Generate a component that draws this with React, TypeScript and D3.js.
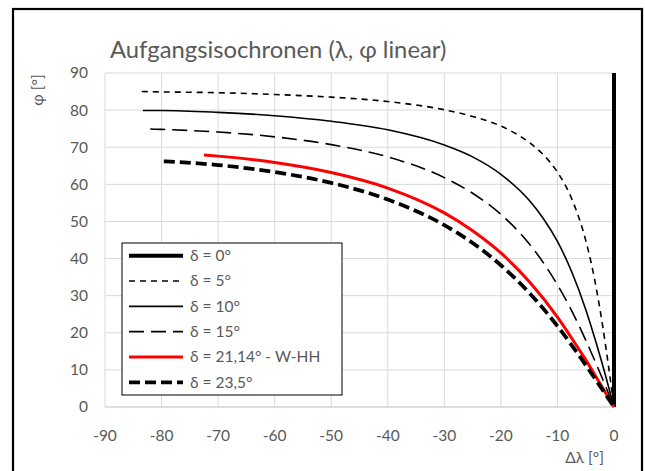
import React from "react";
import * as d3 from "d3";

// Δλ [°] and φ [°], one pair of arrays per δ
const lam0 = [0, 0];
const phi0 = [0, 90];

const lam5 = [-83.5, -80, -70, -60, -50, -40, -30, -25, -20, -15, -12.5, -10, -7.5, -5, -4, -3, -2, -1, 0];
const phi5 = [85.0, 84.9, 84.7, 84.2, 83.5, 82.3, 80.1, 78.3, 75.7, 71.3, 68.0, 63.3, 56.2, 44.9, 38.6, 30.9, 21.8, 11.3, 0];

const lam10 = [-83.3, -80, -70, -60, -50, -40, -30, -25, -20, -15, -12.5, -10, -7.5, -5, -3, -1.5, 0];
const phi10 = [79.9, 79.9, 79.4, 78.5, 77.0, 74.7, 70.6, 67.4, 62.7, 55.7, 50.8, 44.6, 36.5, 26.3, 16.5, 8.5, 0];

const lam15 = [-82, -80, -70, -60, -50, -40, -30, -25, -20, -15, -12.5, -10, -7.5, -5, -2.5, 0];
const phi15 = [74.9, 74.8, 74.1, 72.8, 70.7, 67.4, 61.8, 57.6, 51.9, 44.0, 38.9, 32.9, 26.0, 18.0, 9.3, 0];

const lam21 = [-72.5, -70, -60, -50, -40, -30, -25, -20, -15, -10, -7.5, -5, -2.5, 0];
const phi21 = [67.9, 67.6, 65.9, 63.2, 59.0, 52.3, 47.5, 41.5, 33.8, 24.2, 18.6, 12.7, 6.4, 0];

const lam23 = [-79.6, -70, -60, -50, -40, -30, -25, -20, -15, -10, -7.5, -5, -2.5, 0];
const phi23 = [66.2, 65.2, 63.3, 60.4, 55.9, 49.0, 44.2, 38.2, 30.8, 21.8, 16.7, 11.3, 5.7, 0];

const labels = ["δ = 0°", "δ = 5°", "δ = 10°", "δ = 15°", "δ = 21,14° - W-HH", "δ = 23,5°"];
const xTicks = [-90, -80, -70, -60, -50, -40, -30, -20, -10, 0];
const yTicks = [0, 10, 20, 30, 40, 50, 60, 70, 80, 90];

const W = 645;
const H = 471;
const font = "Lato, 'Open Sans', sans-serif";
const grey = "#595959";

const series = [
  { lam: lam0, phi: phi0, color: "#000", width: 4, dash: null, linear: true },
  { lam: lam5, phi: phi5, color: "#000", width: 1.6, dash: "6,5" },
  { lam: lam10, phi: phi10, color: "#000", width: 1.6, dash: null },
  { lam: lam15, phi: phi15, color: "#000", width: 1.6, dash: "15,7" },
  { lam: lam21, phi: phi21, color: "#ff0000", width: 3, dash: null },
  { lam: lam23, phi: phi23, color: "#000", width: 3.75, dash: "11,5" },
];

export default function App() {
  const x = d3.scaleLinear().domain([-90, 0]).range([105, 614]);
  const y = d3.scaleLinear().domain([0, 90]).range([407, 73]);

  const makePath = (s: any) => {
    const pts = s.lam.map((l: number, i: number) => [l, s.phi[i]] as [number, number]);
    return d3
      .line<[number, number]>()
      .x((d) => x(d[0]))
      .y((d) => y(d[1]))
      .curve(s.linear ? d3.curveLinear : d3.curveMonotoneX)(pts);
  };

  // legend box
  const lx = 122, ly = 243, lw = 220, lh = 152;
  const rowH = lh / labels.length;

  return (
    <svg width={W} height={H} style={{ position: "absolute", left: 0, top: 0, background: "#fff" }}>
      <rect x={0} y={0} width={W} height={H} fill="#fff" />
      <rect x={13} y={9} width={629} height={480} fill="none" stroke="#000" strokeWidth={2.2} />

      <text x={110} y={58} fontFamily={font} fontSize={23.8} fill={grey}>
        Aufgangsisochronen (λ, φ linear)
      </text>

      {/* grid */}
      {xTicks.map((t) => (
        <line key={"gx" + t} x1={x(t)} x2={x(t)} y1={y(0)} y2={y(90)} stroke="#d9d9d9" strokeWidth={1} />
      ))}
      {yTicks.map((t) => (
        <line key={"gy" + t} x1={x(-90)} x2={x(0)} y1={y(t)} y2={y(t)} stroke={t === 0 ? "#bfbfbf" : "#d9d9d9"} strokeWidth={1} />
      ))}

      {/* tick labels */}
      {yTicks.map((t) => (
        <text key={"ty" + t} x={88} y={y(t)} dy="0.35em" textAnchor="end" fontFamily={font} fontSize={15.5} fill={grey}>
          {t}
        </text>
      ))}
      {xTicks.map((t) => (
        <text key={"tx" + t} x={x(t)} y={436} dy="0.35em" textAnchor="middle" fontFamily={font} fontSize={15.5} fill={grey}>
          {t}
        </text>
      ))}

      <text x={604} y={458} dy="0.35em" textAnchor="end" fontFamily={font} fontSize={15.5} fill={grey}>
        Δλ [°]
      </text>
      <text transform="translate(38,90) rotate(-90)" dy="0.35em" textAnchor="middle" fontFamily={font} fontSize={15.5} fill={grey}>
        φ [°]
      </text>

      {/* curves */}
      {series.map((s, i) => (
        <path
          key={"s" + i}
          d={makePath(s) || ""}
          fill="none"
          stroke={s.color}
          strokeWidth={s.width}
          strokeDasharray={s.dash || undefined}
        />
      ))}

      {/* legend */}
      <rect x={lx} y={ly} width={lw} height={lh} fill="#fff" stroke="#000" strokeWidth={1} />
      {series.map((s, i) => {
        const cy = ly + rowH * (i + 0.5);
        return (
          <g key={"l" + i}>
            <line x1={129} x2={183} y1={cy} y2={cy} stroke={s.color} strokeWidth={s.width} strokeDasharray={s.dash || undefined} />
            <text x={190} y={cy} dy="0.35em" fontFamily={font} fontSize={15.5} fill={grey}>
              {labels[i]}
            </text>
          </g>
        );
      })}
    </svg>
  );
}
